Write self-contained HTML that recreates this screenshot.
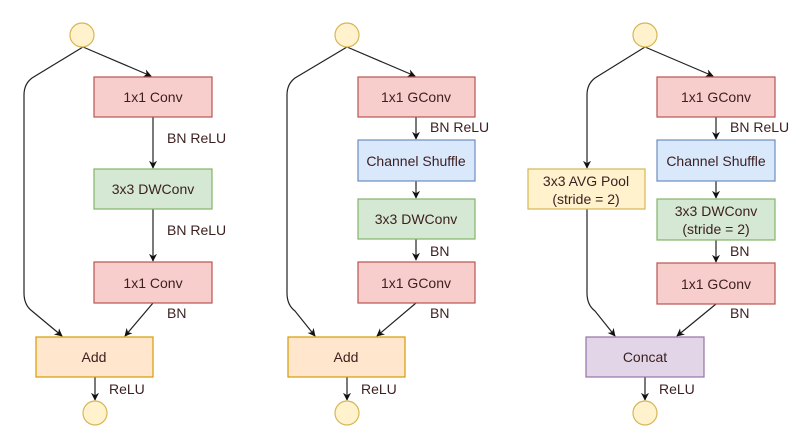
<!DOCTYPE html>
<html><head><meta charset="utf-8"><style>
html,body{margin:0;padding:0;background:#fff}
svg{display:block}
text{font-family:"Liberation Sans",sans-serif;font-size:14px;fill:#3b1f1f}
</style></head><body>
<svg width="797" height="432" viewBox="0 0 797 432" xmlns="http://www.w3.org/2000/svg">
<defs><marker id="a" viewBox="0 0 10 10" refX="9" refY="5" markerWidth="8" markerHeight="8" orient="auto" markerUnits="userSpaceOnUse"><path d="M0,0 L10,5 L0,10 L3,5z" fill="#111"/></marker></defs>
<g stroke="#222" stroke-width="1.2" fill="none" marker-end="url(#a)">
<path d="M83,47 L151,76"/>
<path d="M83,47 L32,78 Q24,84 24,95 L24,293 Q24,305 32,311 L62,336"/>
<path d="M153,117 L153,168"/>
<path d="M153,209 L153,261"/>
<path d="M153,303 L125,336"/>
<path d="M95,377 L95,400"/>
<path d="M347,47 L415,76"/>
<path d="M347,47 L295,78 Q287,84 287,95 L287,293 Q287,305 295,311 L315,336"/>
<path d="M416,117 L416,139"/>
<path d="M416,181 L416,198"/>
<path d="M416,239 L416,260"/>
<path d="M416,303 L377,336"/>
<path d="M347,377 L347,400"/>
<path d="M645,47 L713,76"/>
<path d="M645,47 L595,78 Q587,84 587,95 L587,168"/>
<path d="M587,209 L587,293 Q587,305 595,311 L615,336"/>
<path d="M716,117 L716,139"/>
<path d="M716,181 L716,198"/>
<path d="M716,240 L716,262"/>
<path d="M716,304 L677,336"/>
<path d="M645,377 L645,400"/>
</g>
<g stroke-width="1.2">
<circle cx="82" cy="35" r="12" fill="#fff2cc" stroke="#d6b656"/>
<circle cx="95" cy="413" r="12" fill="#fff2cc" stroke="#d6b656"/>
<circle cx="347" cy="35" r="12" fill="#fff2cc" stroke="#d6b656"/>
<circle cx="347" cy="413" r="12" fill="#fff2cc" stroke="#d6b656"/>
<circle cx="645" cy="35" r="12" fill="#fff2cc" stroke="#d6b656"/>
<circle cx="645" cy="413" r="12" fill="#fff2cc" stroke="#d6b656"/>
<rect x="94" y="77" width="118" height="40" fill="#f8cecc" stroke="#b85450"/>
<rect x="94" y="169" width="118" height="40" fill="#d5e8d4" stroke="#82b366"/>
<rect x="94" y="262" width="118" height="41" fill="#f8cecc" stroke="#b85450"/>
<rect x="36" y="337" width="117" height="40" fill="#ffe6cc" stroke="#d79b00"/>
<rect x="358" y="77" width="117" height="40" fill="#f8cecc" stroke="#b85450"/>
<rect x="358" y="140" width="117" height="41" fill="#dae8fc" stroke="#6c8ebf"/>
<rect x="358" y="199" width="117" height="40" fill="#d5e8d4" stroke="#82b366"/>
<rect x="358" y="262" width="117" height="41" fill="#f8cecc" stroke="#b85450"/>
<rect x="288" y="337" width="117" height="40" fill="#ffe6cc" stroke="#d79b00"/>
<rect x="657" y="77" width="118" height="40" fill="#f8cecc" stroke="#b85450"/>
<rect x="657" y="140" width="118" height="41" fill="#dae8fc" stroke="#6c8ebf"/>
<rect x="657" y="199" width="118" height="41" fill="#d5e8d4" stroke="#82b366"/>
<rect x="657" y="263" width="118" height="41" fill="#f8cecc" stroke="#b85450"/>
<rect x="528" y="169" width="117" height="40" fill="#fff2cc" stroke="#d6b656"/>
<rect x="586" y="337" width="118" height="40" fill="#e1d5e7" stroke="#9673a6"/>
</g>
<g text-anchor="middle">
<text x="153" y="102">1x1 Conv</text>
<text x="153" y="194">3x3 DWConv</text>
<text x="153" y="288">1x1 Conv</text>
<text x="94" y="362">Add</text>
<text x="416" y="102">1x1 GConv</text>
<text x="416" y="166">Channel Shuffle</text>
<text x="416" y="224">3x3 DWConv</text>
<text x="416" y="288">1x1 GConv</text>
<text x="346" y="362">Add</text>
<text x="716" y="102">1x1 GConv</text>
<text x="716" y="166">Channel Shuffle</text>
<text x="716" y="216">3x3 DWConv</text>
<text x="716" y="234">(stride = 2)</text>
<text x="716" y="289">1x1 GConv</text>
<text x="586" y="186">3x3 AVG Pool</text>
<text x="586" y="204">(stride = 2)</text>
<text x="645" y="362">Concat</text>
</g>
<g>
<text x="167" y="143">BN ReLU</text>
<text x="167" y="235">BN ReLU</text>
<text x="167" y="318">BN</text>
<text x="109" y="394">ReLU</text>
<text x="430" y="132">BN ReLU</text>
<text x="430" y="256">BN</text>
<text x="430" y="318">BN</text>
<text x="361" y="394">ReLU</text>
<text x="730" y="132">BN ReLU</text>
<text x="730" y="256">BN</text>
<text x="730" y="318">BN</text>
<text x="659" y="394">ReLU</text>
</g>
</svg>
</body></html>
